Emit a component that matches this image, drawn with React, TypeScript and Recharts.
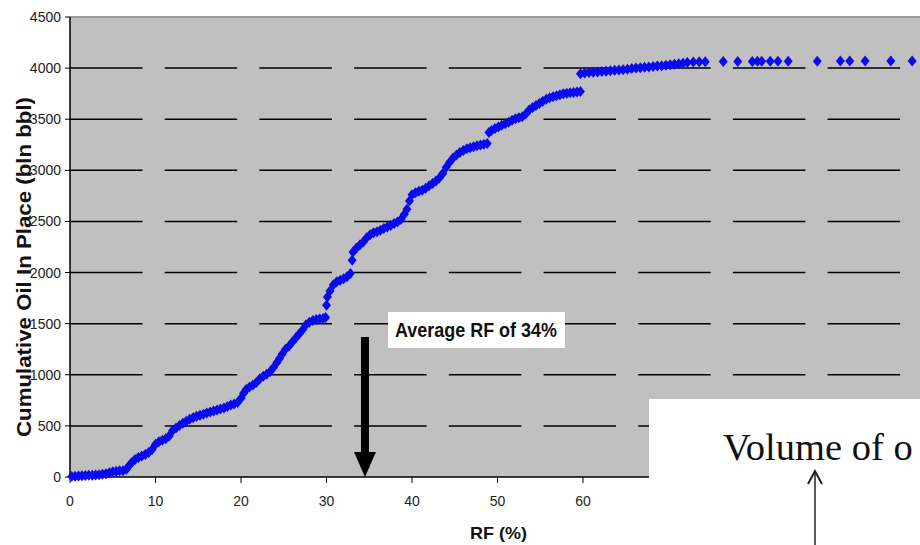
import React from "react";
import { ScatterChart, Scatter, XAxis, YAxis, CartesianGrid, ReferenceLine } from "recharts";

// axis ticks (the 100 tick falls past the right edge of the picture)
const RF_TICKS = [0, 10, 20, 30, 40, 50, 60, 70, 80, 90];
const OIP_TICKS = [0, 500, 1000, 1500, 2000, 2500, 3000, 3500, 4000, 4500];
const GRID_LEVELS = [500, 1000, 1500, 2000, 2500, 3000, 3500, 4000];

// [RF %, cumulative OIP bln bbl]
const rfUnder10: [number, number][] = [
  [0.2, 5], [0.6, 8], [1.0, 10], [1.4, 12], [1.8, 14], [2.2, 16], [2.6, 18], [3.0, 20],
  [3.4, 22], [3.8, 26], [4.2, 32], [4.6, 42], [5.0, 52], [5.4, 56], [5.8, 60], [6.2, 62],
  [6.6, 75], [6.9, 110], [7.2, 140], [7.6, 170], [8.0, 190], [8.4, 205], [8.8, 220],
  [9.2, 240], [9.6, 270], [10.0, 320], [10.4, 345], [10.8, 360],
];

const rf10to20: [number, number][] = [
  [11.2, 375], [11.6, 400], [12.0, 455], [12.4, 480], [12.8, 505], [13.2, 525], [13.6, 545],
  [14.0, 565], [14.4, 580], [14.8, 595], [15.2, 605], [15.6, 615], [16.0, 625], [16.4, 635],
  [16.8, 645], [17.2, 655], [17.6, 665], [18.0, 675], [18.4, 690], [18.8, 705], [19.2, 715],
  [19.6, 730], [20.0, 770],
];

const rf20to30: [number, number][] = [
  [20.3, 820], [20.6, 855], [21.0, 880], [21.4, 900], [21.8, 925], [22.2, 960], [22.6, 985],
  [23.0, 1005], [23.4, 1030], [23.8, 1070], [24.2, 1120], [24.5, 1160], [24.8, 1200],
  [25.2, 1250], [25.6, 1280], [26.0, 1320], [26.4, 1360], [26.8, 1400], [27.2, 1440],
  [27.6, 1490], [28.0, 1515], [28.4, 1530], [28.8, 1540], [29.2, 1545], [29.6, 1550], [29.9, 1560],
];

const rf30to40: [number, number][] = [
  [30.0, 1680], [30.1, 1760], [30.4, 1820], [30.8, 1880], [31.2, 1910], [31.6, 1925],
  [32.0, 1940], [32.4, 1960], [32.8, 1990], [33.0, 2120], [33.1, 2200], [33.5, 2240],
  [33.9, 2270], [34.3, 2300], [34.7, 2340], [35.1, 2370], [35.5, 2390], [35.9, 2400],
  [36.3, 2415], [36.7, 2430], [37.1, 2445], [37.5, 2460], [37.9, 2480], [38.3, 2495],
  [38.7, 2520], [39.1, 2570], [39.4, 2620], [39.7, 2700], [40.0, 2760],
];

const rf40to50: [number, number][] = [
  [40.4, 2780], [40.8, 2795], [41.2, 2805], [41.6, 2825], [42.0, 2850], [42.4, 2870],
  [42.8, 2895], [43.2, 2925], [43.6, 2970], [44.0, 3030], [44.4, 3080], [44.8, 3120],
  [45.2, 3150], [45.6, 3175], [46.0, 3195], [46.4, 3210], [46.8, 3220], [47.2, 3230],
  [47.6, 3240], [48.0, 3248], [48.4, 3255], [48.8, 3262], [49.0, 3370], [49.3, 3390],
  [49.7, 3410], [50.1, 3425],
];

const rf50to60: [number, number][] = [
  [50.5, 3440], [50.9, 3455], [51.3, 3470], [51.7, 3490], [52.1, 3505], [52.5, 3515],
  [52.9, 3525], [53.3, 3550], [53.7, 3590], [54.1, 3615], [54.5, 3635], [54.9, 3655],
  [55.3, 3675], [55.7, 3695], [56.1, 3710], [56.5, 3720], [56.9, 3730], [57.3, 3740],
  [57.7, 3750], [58.1, 3755], [58.5, 3758], [58.9, 3762], [59.3, 3766], [59.7, 3770],
];

const rf60to72: [number, number][] = [
  [59.7, 3945], [60.2, 3952], [60.7, 3958], [61.2, 3960], [61.7, 3963], [62.2, 3966],
  [62.7, 3970], [63.2, 3974], [63.7, 3978], [64.2, 3981], [64.7, 3985], [65.2, 3990],
  [65.7, 3995], [66.2, 4000], [66.7, 4004], [67.2, 4008], [67.7, 4012], [68.2, 4016],
  [68.7, 4020], [69.2, 4024], [69.7, 4028], [70.2, 4033], [70.7, 4038], [71.2, 4043],
  [71.7, 4048], [72.2, 4055],
];

const rfTail: [number, number][] = [
  [72.9, 4060], [73.6, 4062], [74.3, 4062], [76.4, 4064], [78.1, 4064], [79.8, 4065],
  [80.4, 4066], [80.9, 4066], [81.9, 4067], [82.8, 4067], [84.0, 4068], [87.4, 4068],
  [90.1, 4069], [91.2, 4069], [93.0, 4069], [96.0, 4070], [98.5, 4070],
];

const AVG_RF = 34.5;

const points = [
  ...rfUnder10, ...rf10to20, ...rf20to30, ...rf30to40,
  ...rf40to50, ...rf50to60, ...rf60to72, ...rfTail,
].map(([rf, oip]) => ({ rf, oip }));

const FONT = "'Liberation Sans', Arial, sans-serif";

const Diamond = (props: any) => {
  const { cx, cy } = props;
  if (cx == null || cy == null) return null;
  return (
    <polygon
      points={`${cx},${cy - 5.5} ${cx + 4.5},${cy} ${cx},${cy + 5.5} ${cx - 4.5},${cy}`}
      fill="#0a0af0"
    />
  );
};

// thick down arrow pointing at the average RF
const BigArrow = (props: any) => {
  const { x1, y1, y2 } = props;
  const top = Math.min(y1, y2);
  const tip = Math.max(y1, y2);
  return (
    <g>
      <rect x={x1 - 4} y={top} width={8} height={tip - top - 22} fill="#000" />
      <polygon points={`${x1 - 11},${tip - 25} ${x1 + 11},${tip - 25} ${x1},${tip}`} fill="#000" />
    </g>
  );
};

const XTick = (props: any) => {
  const { x, y, payload } = props;
  return (
    <text x={x} y={y + 21} textAnchor="middle" fontSize={14} fontFamily={FONT} fill="#222">
      {payload.value}
    </text>
  );
};

const YTick = (props: any) => {
  const { x, y, payload } = props;
  return (
    <text x={x} y={y + 5} textAnchor="end" fontSize={14} fontFamily={FONT} fill="#222">
      {payload.value}
    </text>
  );
};

export default function App() {
  return (
    <div
      style={{
        position: "absolute", left: 0, top: 0, width: 920, height: 545,
        overflow: "hidden", background: "#fff",
      }}
    >
      <ScatterChart width={935} height={545} margin={{ top: 17, right: 10, bottom: 0, left: 0 }}>
        <CartesianGrid
          vertical={false}
          horizontalValues={GRID_LEVELS}
          stroke="#000"
          strokeWidth={1.5}
          strokeDasharray="72.5 22.2"
          fill="#c0c0c0"
          fillOpacity={1}
        />
        <ReferenceLine y={4500} stroke="#9a9a9a" strokeWidth={2} />
        <XAxis
          type="number"
          dataKey="rf"
          domain={[0, 100]}
          ticks={RF_TICKS}
          interval={0}
          height={68}
          tickSize={6}
          tickMargin={2}
          axisLine={{ stroke: "#000", strokeWidth: 1.5 }}
          tickLine={{ stroke: "#000" }}
          tick={<XTick />}
        />
        <YAxis
          type="number"
          dataKey="oip"
          domain={[0, 4500]}
          ticks={OIP_TICKS}
          interval={0}
          width={70}
          tickSize={5}
          tickMargin={4}
          axisLine={{ stroke: "#000", strokeWidth: 1.5 }}
          tickLine={{ stroke: "#000" }}
          tick={<YTick />}
        />
        <Scatter data={points} dataKey="oip" shape={Diamond} fill="#0a0af0" isAnimationActive={false} />
        <ReferenceLine segment={[{ x: AVG_RF, y: 1370 }, { x: AVG_RF, y: 0 }]} shape={BigArrow} />
      </ScatterChart>

      <svg
        width={920}
        height={545}
        style={{ position: "absolute", left: 0, top: 0, pointerEvents: "none" }}
      >
        <text
          x={31}
          y={267}
          transform="rotate(-90 31 267)"
          textAnchor="middle"
          fontFamily={FONT}
          fontWeight="bold"
          fontSize={21}
          fill="#111"
          textLength={340}
          lengthAdjust="spacingAndGlyphs"
        >
          Cumulative Oil In Place (bln bbl)
        </text>
        <text
          x={470}
          y={539}
          fontFamily={FONT}
          fontWeight="bold"
          fontSize={17}
          fill="#111"
          textLength={57}
          lengthAdjust="spacingAndGlyphs"
        >
          RF (%)
        </text>

        <rect x={388} y={312} width={177} height={36} fill="#fff" />
        <text
          x={395}
          y={337}
          fontFamily={FONT}
          fontWeight="bold"
          fontSize={20}
          fill="#111"
          textLength={162}
          lengthAdjust="spacingAndGlyphs"
        >
          Average RF of 34%
        </text>

        <rect x={649} y={399} width={271} height={146} fill="#fff" />
        <text x={723} y={460} fontFamily="'Liberation Serif', 'Times New Roman', serif" fontSize={38.5} fill="#111">
          Volume of o
        </text>
        <line x1={815} y1={472} x2={815} y2={545} stroke="#222" strokeWidth={1.5} />
        <polyline points="808,484 815,471 822,484" fill="none" stroke="#222" strokeWidth={2} />
      </svg>
    </div>
  );
}
